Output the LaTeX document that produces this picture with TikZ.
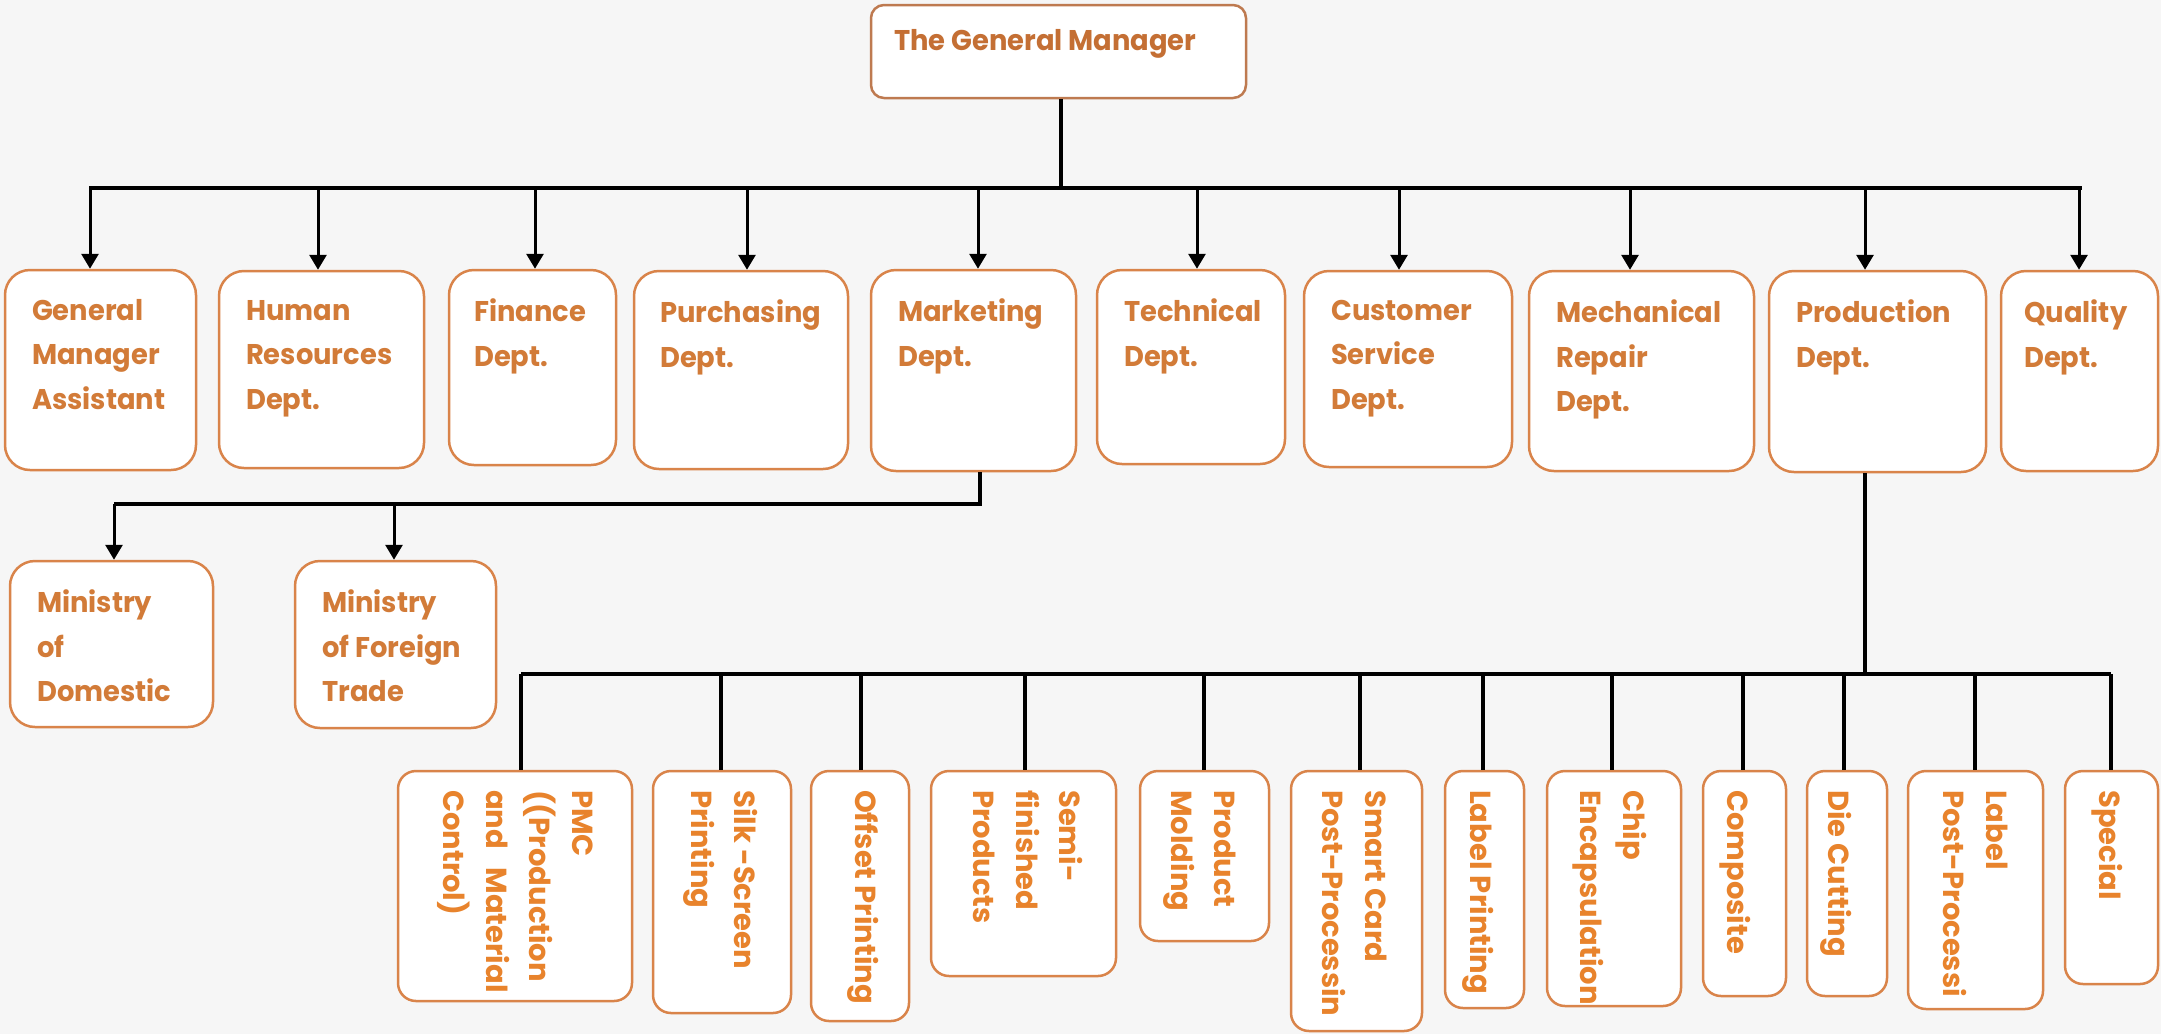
\documentclass[tikz,border=0pt]{standalone}
\usepackage{fontspec}
\setmainfont{Poppins}
\newfontfamily\topfont{Poppins}[FakeStretch=0.96]
\usetikzlibrary{fit,arrows.meta}
\definecolor{bg}{HTML}{F6F6F6}
\definecolor{gmc}{HTML}{BE7A50}
\definecolor{boxc}{HTML}{D9844A}
\definecolor{gmtext}{HTML}{C46F34}
\definecolor{toptext}{HTML}{D27B38}
\definecolor{bottext}{HTML}{E8832C}
\begin{document}
\begin{tikzpicture}[x=0.5pt,y=-0.5pt,
  box/.style={draw=boxc, fill=white, line width=1.25pt, rounded corners=12.5pt, inner sep=0pt},
  gmbox/.style={box, draw=gmc, rounded corners=6.5pt},
  bbox/.style={box, rounded corners=9pt},
  ttext/.style={anchor=north west, inner sep=0pt, align=left, text=toptext, font=\topfont\fontsize{14.25pt}{22.25pt}\selectfont\bfseries},
  gmtxt/.style={ttext, text=gmtext},
  btext/.style={anchor=north west, rotate=-90, inner sep=0pt, align=left, text=bottext, font=\fontsize{14.5pt}{21.5pt}\selectfont\bfseries},
  bus/.style={line width=2pt},
  arr/.style={line width=1.5pt, -{Triangle[width=8.5pt,length=7.5pt]}},
  drop/.style={line width=1.75pt}]
\fill[bg] (0,0) rectangle (2161,1034);
\useasboundingbox (0,0) rectangle (2161,1034);

% ---- top box
\node[gmbox, fit={(871,5)(1246,98)}] (gm) {};
\node[gmtxt] (gmT) at ([xshift=12pt,yshift=-12.5pt]gm.north west) {The General Manager};

% ---- department row
\node[box, fit={(5,270)(196,470)}] (gma) {};
\node[box, fit={(219,271)(424,468)}] (hr) {};
\node[box, fit={(449,270)(616,465)}] (fin) {};
\node[box, fit={(634,271)(848,469)}] (pur) {};
\node[box, fit={(871,270)(1076,471)}] (mkt) {};
\node[box, fit={(1097,270)(1285,464)}] (tec) {};
\node[box, fit={(1304,271)(1512,467)}] (cus) {};
\node[box, fit={(1529,271)(1754,471)}] (mec) {};
\node[box, fit={(1769,271)(1986,472)}] (pro) {};
\node[box, fit={(2001,271)(2158,471)}] (qua) {};

\node[ttext] (gmaT) at ([xshift=14pt,yshift=-15pt]gma.north west) {General\\Manager\\Assistant};
\node[ttext] (hrT) at ([xshift=14pt,yshift=-15pt]hr.north west) {Human\\Resources\\Dept.};
\node[ttext] (finT) at ([xshift=13pt,yshift=-15pt]fin.north west) {Finance\\Dept.};
\node[ttext] (purT) at ([xshift=13.5pt,yshift=-15pt]pur.north west) {Purchasing\\Dept.};
\node[ttext] (mktT) at ([xshift=14pt,yshift=-15pt]mkt.north west) {Marketing\\Dept.};
\node[ttext] (tecT) at ([xshift=14pt,yshift=-15pt]tec.north west) {Technical\\Dept.};
\node[ttext] (cusT) at ([xshift=14pt,yshift=-15pt]cus.north west) {Customer\\Service\\Dept.};
\node[ttext] (mecT) at ([xshift=14pt,yshift=-15pt]mec.north west) {Mechanical\\Repair\\Dept.};
\node[ttext] (proT) at ([xshift=14pt,yshift=-15pt]pro.north west) {Production\\Dept.};
\node[ttext] (quaT) at ([xshift=12pt,yshift=-15pt]qua.north west) {Quality\\Dept.};

% ---- marketing sub row
\node[box, fit={(10,561)(213,727)}] (dom) {};
\node[box, fit={(295,561)(496,728)}] (frn) {};
\node[ttext] (domT) at ([xshift=14pt,yshift=-15pt]dom.north west) {Ministry\\of\\Domestic};
\node[ttext] (frnT) at ([xshift=14pt,yshift=-15pt]frn.north west) {Ministry\\of Foreign\\Trade};

% ---- production sub row
\node[bbox, fit={(398,771)(632,1001)}] (pmc) {};
\node[bbox, fit={(653,771)(791,1013)}] (silk) {};
\node[bbox, fit={(811,771)(909,1021)}] (off) {};
\node[bbox, fit={(931,771)(1116,976)}] (semi) {};
\node[bbox, fit={(1140,771)(1269,941)}] (mold) {};
\node[bbox, fit={(1291,771)(1422,1031)}] (smart) {};
\node[bbox, fit={(1445,771)(1524,1008)}] (lprint) {};
\node[bbox, fit={(1547,771)(1681,1006)}] (chip) {};
\node[bbox, fit={(1703,771)(1786,996)}] (comp) {};
\node[bbox, fit={(1807,771)(1887,996)}] (die) {};
\node[bbox, fit={(1908,771)(2043,1009)}] (lpost) {};
\node[bbox, fit={(2065,771)(2158,984)}] (spec) {};

\node[btext] (pmcT) at ([xshift=-20pt,yshift=-10pt]pmc.north east) {PMC\\((Production\\and\ \ \ Material\\Control)};
\node[btext] (silkT) at ([xshift=-17pt,yshift=-10pt]silk.north east) {Silk -Screen\\Printing};
\node[btext] (offT) at ([xshift=-15.5pt,yshift=-10pt]off.north east) {Offset Printing};
\node[btext] (semiT) at ([xshift=-17pt,yshift=-10pt]semi.north east) {Semi-\\finished\\Products};
\node[btext] (moldT) at ([xshift=-17pt,yshift=-10pt]mold.north east) {Product\\Molding};
\node[btext] (smartT) at ([xshift=-18pt,yshift=-10pt]smart.north east) {Smart Card\\Post-Processin};
\node[btext] (lprintT) at ([xshift=-15.5pt,yshift=-10pt]lprint.north east) {Label Printing};
\node[btext] (chipT) at ([xshift=-17.5pt,yshift=-10pt]chip.north east) {Chip\\Encapsulation};
\node[btext] (compT) at ([xshift=-18pt,yshift=-10pt]comp.north east) {Composite};
\node[btext] (dieT) at ([xshift=-18pt,yshift=-10pt]die.north east) {Die Cutting};
\node[btext] (lpostT) at ([xshift=-18pt,yshift=-10pt]lpost.north east) {Label\\Post-Processi};
\node[btext] (specT) at ([xshift=-18pt,yshift=-10pt]spec.north east) {Special};

% ---- connectors: top bus
\coordinate (b0) at (1061,188);
\coordinate (bL) at (89,188);
\coordinate (bR) at (2082,188);
\coordinate (a1) at (90,188);
\coordinate (a2) at (318,188);
\coordinate (a3) at (535,188);
\coordinate (a4) at (747,188);
\coordinate (a5) at (978,188);
\coordinate (a6) at (1197,188);
\coordinate (a7) at (1399,188);
\coordinate (a8) at (1630,188);
\coordinate (a9) at (1865,188);
\coordinate (a10) at (2079,188);
\draw[bus] (gm.south -| b0) -- (b0);
\draw[bus] (bL) -- (bR);
\draw[arr] (a1) -- (a1 |- gma.north);
\draw[arr] (a2) -- (a2 |- hr.north);
\draw[arr] (a3) -- (a3 |- fin.north);
\draw[arr] (a4) -- (a4 |- pur.north);
\draw[arr] (a5) -- (a5 |- mkt.north);
\draw[arr] (a6) -- (a6 |- tec.north);
\draw[arr] (a7) -- (a7 |- cus.north);
\draw[arr] (a8) -- (a8 |- mec.north);
\draw[arr] (a9) -- (a9 |- pro.north);
\draw[arr] (a10) -- (a10 |- qua.north);

% ---- marketing branch
\coordinate (m0) at (980,504);
\coordinate (m1) at (114,504);
\coordinate (m2) at (394,504);
\draw[bus] (mkt.south -| m0) -- (m0) -- (m1);
\draw[arr] (m1) -- (m1 |- dom.north);
\draw[arr] (m2) -- (m2 |- frn.north);

% ---- production branch
\coordinate (p0) at (1865,674);
\coordinate (pL) at (521,674);
\coordinate (pR) at (2111,674);
\draw[bus] (pro.south -| p0) -- (p0);
\draw[bus] (pL) -- (pR);
\foreach \x/\n in {521/pmc,721/silk,861/off,1025/semi,1204/mold,1360/smart,1483/lprint,1612/chip,1743/comp,1844/die,1975/lpost,2111/spec}{
  \draw[drop] (\x,674) -- (\x,674 |- \n.north);
}
\end{tikzpicture}
\end{document}
